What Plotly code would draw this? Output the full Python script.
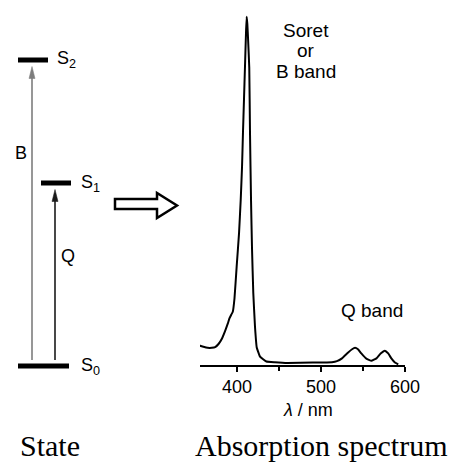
import plotly.graph_objects as go

# ---------------- data ----------------
wavelength_nm = [350, 355, 360, 365, 370, 374, 378, 382, 386, 389, 391, 393, 395,
                 397, 399.6, 402.4, 404.4, 406, 407.1, 408.3, 409.5, 410.7, 411.5,
                 412.3, 413.2, 414.6, 415.5, 416.7, 417.9, 419.4, 421.4, 423.5,
                 427.4, 435, 445, 460, 490, 513, 519, 525, 532, 537, 540.5, 544,
                 548, 554, 560, 566, 571, 576, 580, 584, 588, 592]
absorbance = [0.063, 0.056, 0.052, 0.049, 0.049, 0.051, 0.060, 0.075, 0.098, 0.118,
              0.133, 0.143, 0.152, 0.190, 0.281, 0.376, 0.471, 0.567, 0.662, 0.757,
              0.852, 0.948, 0.995, 0.975, 0.93, 0.85, 0.66, 0.47, 0.33, 0.205, 0.11,
              0.05, 0.024, 0.01, 0.008, 0.006, 0.007, 0.008, 0.011, 0.019, 0.035,
              0.045, 0.049, 0.045, 0.033, 0.018, 0.012, 0.019, 0.033, 0.041, 0.033,
              0.018, 0.007, 0.002]

x_ticks = [400, 500, 600]
x_tick_labels = ["400", "500", "600"]
x_minor_ticks = [350, 450, 550]

states = ["S0", "S1", "S2"]
state_labels = ["S<sub>0</sub>", "S<sub>1</sub>", "S<sub>2</sub>"]
state_energy = [0.0, 1.83, 3.06]          # arbitrary units

transitions = ["B", "Q"]
transition_from = ["S0", "S0"]
transition_to = ["S2", "S1"]

band_labels = ["Soret", "or", "B band"]
q_band_label = "Q band"
x_title = "<i>λ</i> / nm"
captions = ["State", "Absorption spectrum"]

# ---------------- layout helpers ----------------
W, H = 459, 463
def px(x):
    return x / W
def py(y):
    return 1 - y / H

SANS = "Liberation Sans, Arial, sans-serif"
SERIF = "Liberation Serif, Times New Roman, serif"

fig = go.Figure()

# spectrum
fig.add_trace(go.Scatter(
    x=wavelength_nm, y=absorbance, mode="lines",
    line=dict(color="black", width=2, shape="spline", smoothing=0.3),
    xaxis="x", yaxis="y", hoverinfo="skip", showlegend=False))

# energy levels (positions in the diagram's horizontal layout)
level_x = {"S0": (18, 69), "S1": (41, 71), "S2": (18, 48)}
level_label_x = {"S0": 79, "S1": 79, "S2": 55}
E = dict(zip(states, state_energy))
for s in states:
    x0, x1 = level_x[s]
    fig.add_trace(go.Scatter(
        x=[x0, x1], y=[E[s], E[s]], mode="lines",
        line=dict(color="black", width=5),
        xaxis="x2", yaxis="y2", hoverinfo="skip", showlegend=False))

annotations = []
shapes = []
for s, lab in zip(states, state_labels):
    annotations.append(dict(
        x=level_label_x[s], y=E[s], xref="x2", yref="y2", text=lab,
        showarrow=False, xanchor="left", yanchor="middle",
        font=dict(family=SANS, size=18, color="black")))

trans_x = {"B": 32, "Q": 55}
trans_color = {"B": "#7d7d7d", "Q": "#1a1a1a"}
trans_label_pos = {"B": (20.7, 2.13), "Q": (68, 1.10)}
head_len, head_half = 0.12, 3.0
for t, f, to in zip(transitions, transition_from, transition_to):
    xt = trans_x[t]
    tip = E[to] - 0.065
    tail = E[f] + 0.06
    fig.add_trace(go.Scatter(
        x=[xt, xt], y=[tail, tip - head_len + 0.02], mode="lines",
        line=dict(color=trans_color[t], width=1.6),
        xaxis="x2", yaxis="y2", hoverinfo="skip", showlegend=False))
    shapes.append(dict(
        type="path", xref="x2", yref="y2",
        path=(f"M {xt - head_half},{tip - head_len} L {xt},{tip} "
              f"L {xt + head_half},{tip - head_len} Z"),
        line=dict(color=trans_color[t], width=0.5), fillcolor=trans_color[t]))
    lx, ly = trans_label_pos[t]
    annotations.append(dict(
        x=lx, y=ly, xref="x2", yref="y2", text=t, showarrow=False,
        xanchor="center", yanchor="middle",
        font=dict(family=SANS, size=18, color="black")))

# band labels
for txt, yy in zip(band_labels, [30, 50.5, 71]):
    annotations.append(dict(
        x=px(306), y=py(yy), xref="paper", yref="paper", text=txt,
        showarrow=False, xanchor="center", yanchor="middle",
        font=dict(family=SANS, size=19, color="black")))
annotations.append(dict(
    x=px(372), y=py(310), xref="paper", yref="paper", text=q_band_label,
    showarrow=False, xanchor="center", yanchor="middle",
    font=dict(family=SANS, size=19, color="black")))
annotations.append(dict(
    x=px(308), y=py(410), xref="paper", yref="paper", text=x_title,
    showarrow=False, xanchor="center", yanchor="middle",
    font=dict(family=SANS, size=18, color="black")))

# captions
for txt, cx in zip(captions, [50, 321]):
    annotations.append(dict(
        x=px(cx), y=0, xref="paper", yref="paper", text=txt,
        showarrow=False, xanchor="center", yanchor="bottom", borderpad=0,
        font=dict(family=SERIF, size=30, color="black")))

# hollow arrow between the panels
pts = [(115, 199), (157, 199), (157, 193), (177, 205.5), (157, 218), (157, 209), (115, 209)]
path = "M " + " L ".join(f"{px(a):.5f},{py(b):.5f}" for a, b in pts) + " Z"
shapes.append(dict(type="path", path=path, xref="paper", yref="paper",
                   line=dict(color="black", width=2.5), fillcolor="white"))

fig.update_layout(
    width=W, height=H, autosize=False,
    margin=dict(l=0, r=0, t=0, b=0, autoexpand=False),
    paper_bgcolor="white", plot_bgcolor="white",
    showlegend=False,
    xaxis=dict(domain=[px(195), px(405)], range=[350, 600], automargin=False,
               showline=True, linecolor="black", linewidth=1.5,
               ticks="outside", ticklen=5, tickwidth=1.5, tickcolor="black",
               tickvals=x_ticks, ticktext=x_tick_labels,
               tickfont=dict(family=SANS, size=18, color="black"),
               minor=dict(tickvals=x_minor_ticks, ticks="outside", ticklen=4,
                          tickwidth=1.5, tickcolor="black"),
               showgrid=False, zeroline=False, fixedrange=True),
    yaxis=dict(domain=[py(365), py(4.5)], range=[0, 1.03], visible=False,
               automargin=False, fixedrange=True),
    xaxis2=dict(domain=[0, px(200)], range=[0, 200], visible=False,
                automargin=False, anchor="y2", fixedrange=True),
    yaxis2=dict(domain=[py(416), py(16)], range=[-0.5, 3.5], visible=False,
                automargin=False, anchor="x2", fixedrange=True),
    annotations=annotations,
    shapes=shapes,
)

post = (
    "document.body.style.margin='0';"
    "document.body.style.padding='0';"
    "document.body.style.overflow='hidden';"
)
fig.write_html("out.html", config={"displayModeBar": False}, post_script=post)
